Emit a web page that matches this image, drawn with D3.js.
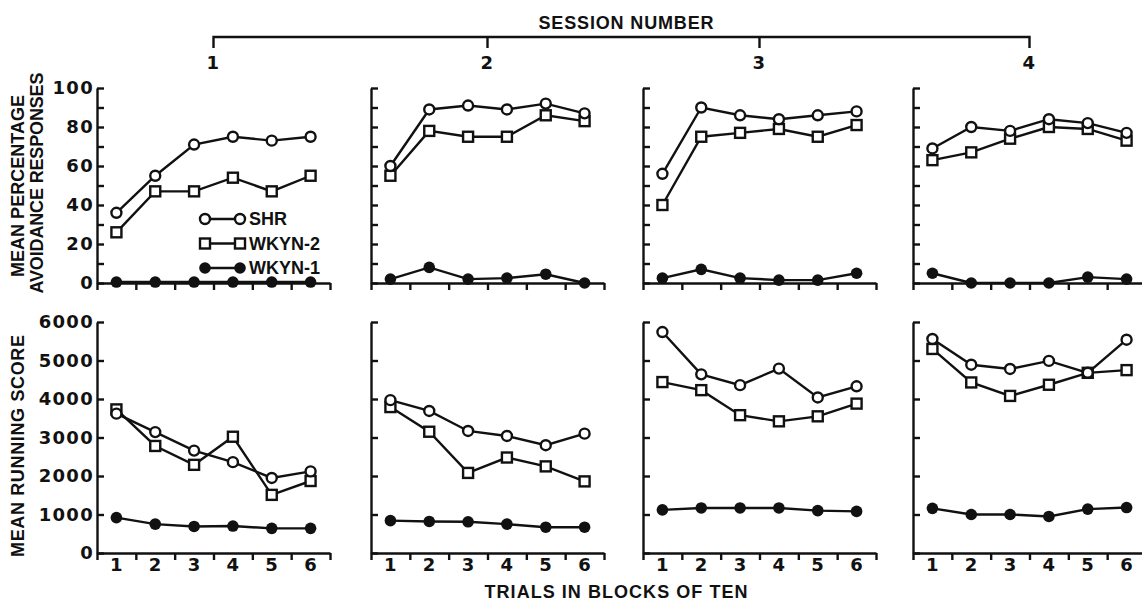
<!DOCTYPE html>
<html>
<head>
<meta charset="utf-8">
<script src="https://cdn.jsdelivr.net/npm/d3@7"></script>
<style>
  body { margin: 0; background: #fff; }
  svg text { font-family: "Liberation Sans", Arial, sans-serif; font-weight: bold; fill: #111; }
  svg text.num { font-family: "DejaVu Sans", sans-serif; letter-spacing: 1.3px; }
</style>
</head>
<body>
<svg id="chart" width="1142" height="601"></svg>
<script>
// blocks of ten trials and session labels
var blocks = [1, 2, 3, 4, 5, 6];
var sessions = ["1", "2", "3", "4"];
var seriesNames = ["SHR", "WKYN-2", "WKYN-1"];

// mean percentage avoidance responses, one row per session
var shrAvoid = [
  [36, 55, 71, 75, 73, 75],
  [60, 89, 91, 89, 92, 87],
  [56, 90, 86, 84, 86, 88],
  [69, 80, 78, 84, 82, 77]
];
var wk2Avoid = [
  [26, 47, 47, 54, 47, 55],
  [55, 78, 75, 75, 86, 83],
  [40, 75, 77, 79, 75, 81],
  [63, 67, 74, 80, 79, 73]
];
var wk1Avoid = [
  [0.5, 0.5, 0.5, 0.5, 0.5, 0.5],
  [2, 8, 2, 2.5, 4.5, 0],
  [2.5, 7, 2.5, 1.5, 1.5, 5],
  [5, 0, 0, 0, 3, 2]
];

// mean running score, one row per session
var shrRun = [
  [3620, 3140, 2660, 2360, 1950, 2120],
  [3970, 3690, 3170, 3040, 2800, 3100],
  [5740, 4640, 4360, 4790, 4040, 4330],
  [5560, 4890, 4780, 4990, 4680, 5540]
];
var wk2Run = [
  [3730, 2780, 2290, 3020, 1510, 1870],
  [3790, 3150, 2080, 2480, 2250, 1860],
  [4440, 4230, 3580, 3420, 3550, 3880],
  [5300, 4430, 4080, 4370, 4680, 4750]
];
var wk1Run = [
  [920, 750, 690, 700, 640, 640],
  [840, 820, 810, 750, 670, 670],
  [1120, 1170, 1170, 1170, 1100, 1080],
  [1160, 1000, 1000, 950, 1140, 1180]
];

var avoidTicks = d3.range(0, 101, 10);
var avoidLabels = [0, 20, 40, 60, 80, 100];
var runTicks = [0, 1000, 2000, 3000, 4000, 5000, 6000];

var svg = d3.select("#chart");
var ink = "#111";
var sw = 2.4;

var panelLeft = [97, 371, 643, 913];
var panelW = 233;
var top1 = 88, bot1 = 283;
var top2 = 322, bot2 = 553;

var yAvoid = d3.scaleLinear().domain([0, 100]).range([bot1, top1]);
var yRun = d3.scaleLinear().domain([0, 6000]).range([bot2, top2]);

var markers = {
  "SHR": "circle",
  "WKYN-2": "square",
  "WKYN-1": "dot"
};

function drawMarker(g, type, cx, cy) {
  if (type === "square") {
    g.append("rect")
      .attr("x", cx - 5).attr("y", cy - 5)
      .attr("width", 10).attr("height", 10)
      .attr("fill", "#fff").attr("stroke", ink).attr("stroke-width", sw);
  } else if (type === "circle") {
    g.append("circle")
      .attr("cx", cx).attr("cy", cy).attr("r", 5)
      .attr("fill", "#fff").attr("stroke", ink).attr("stroke-width", sw);
  } else {
    g.append("circle")
      .attr("cx", cx).attr("cy", cy).attr("r", 5.8)
      .attr("fill", ink).attr("stroke", "none");
  }
}

function styleLabels(sel) {
  sel.selectAll("text")
    .attr("class", "num")
    .attr("font-size", 18)
    .attr("fill", ink);
  sel.attr("font-family", null).attr("font-size", null);
}

function drawPanel(p, y, yTicks, series, labelTicks, showX) {
  var x = d3.scaleLinear().domain([0, 6]).range([panelLeft[p], panelLeft[p] + panelW]);
  var g = svg.append("g");

  // y axis with inward ticks
  var ya = g.append("g")
    .attr("transform", "translate(" + panelLeft[p] + ",0)")
    .call(d3.axisRight(y).tickValues(yTicks).tickSize(7).tickSizeOuter(0).tickFormat(""));
  ya.selectAll("path, line").attr("stroke", ink).attr("stroke-width", sw);

  if (labelTicks) {
    var yl = g.append("g")
      .attr("transform", "translate(" + panelLeft[p] + ",0)")
      .call(d3.axisLeft(y).tickValues(labelTicks).tickSize(0).tickPadding(3).tickFormat(d3.format("d")));
    yl.select(".domain").remove();
    styleLabels(yl);
  }

  // x axis, ticks on block boundaries
  var xa = g.append("g")
    .attr("transform", "translate(0," + y.range()[0] + ")")
    .call(d3.axisBottom(x).tickValues(d3.range(0, 7)).tickSize(7).tickSizeOuter(0).tickFormat(""));
  xa.selectAll("path, line").attr("stroke", ink).attr("stroke-width", sw);

  if (showX) {
    var xl = g.append("g")
      .attr("transform", "translate(0," + y.range()[0] + ")")
      .call(d3.axisBottom(x).tickValues(blocks.map(function (b) { return b - 0.5; }))
        .tickSize(0).tickPadding(5).tickFormat(function (d) { return d + 0.5; }));
    xl.select(".domain").remove();
    styleLabels(xl);
  }

  var line = d3.line()
    .x(function (d, i) { return x(i + 0.5); })
    .y(function (d) { return y(d); });

  series.forEach(function (s) {
    g.append("path").datum(s.values)
      .attr("d", line).attr("fill", "none")
      .attr("stroke", ink).attr("stroke-width", sw);
  });
  series.forEach(function (s) {
    s.values.forEach(function (v, i) {
      drawMarker(g, markers[s.name], x(i + 0.5), y(v));
    });
  });
}

sessions.forEach(function (s, p) {
  drawPanel(p, yAvoid, avoidTicks, [
    { name: "WKYN-1", values: wk1Avoid[p] },
    { name: "WKYN-2", values: wk2Avoid[p] },
    { name: "SHR", values: shrAvoid[p] }
  ], p === 0 ? avoidLabels : null, false);
  drawPanel(p, yRun, runTicks, [
    { name: "WKYN-1", values: wk1Run[p] },
    { name: "WKYN-2", values: wk2Run[p] },
    { name: "SHR", values: shrRun[p] }
  ], p === 0 ? runTicks : null, true);
});

// session bracket on top
var centers = panelLeft.map(function (l) { return l + panelW / 2; });
var bracket = svg.append("g");
bracket.append("path")
  .attr("d", "M" + centers[0] + ",48 V37 H" + centers[3] + " V48")
  .attr("fill", "none").attr("stroke", ink).attr("stroke-width", sw);
bracket.selectAll("line.mid").data([centers[1], centers[2]]).enter()
  .append("line").attr("class", "mid")
  .attr("x1", function (d) { return d; }).attr("x2", function (d) { return d; })
  .attr("y1", 37).attr("y2", 48)
  .attr("stroke", ink).attr("stroke-width", sw);
bracket.selectAll("text.num").data(sessions).enter()
  .append("text").attr("class", "num")
  .attr("x", function (d, i) { return centers[i]; })
  .attr("y", 69).attr("text-anchor", "middle").attr("font-size", 18)
  .text(function (d) { return d; });

svg.append("text").attr("x", 626).attr("y", 29).attr("text-anchor", "middle")
  .attr("font-size", 18).attr("textLength", 175).text("SESSION NUMBER");

// axis titles
function vtitle(txt, x, y, len) {
  svg.append("text")
    .attr("transform", "translate(" + x + "," + y + ") rotate(-90)")
    .attr("text-anchor", "middle").attr("dy", "0.36em")
    .attr("font-size", 18).attr("textLength", len).text(txt);
}
vtitle("MEAN PERCENTAGE", 18, 186, 182);
vtitle("AVOIDANCE RESPONSES", 37, 183, 221);
vtitle("MEAN RUNNING SCORE", 18, 446, 222);

svg.append("text").attr("x", 616).attr("y", 598).attr("text-anchor", "middle")
  .attr("font-size", 18).attr("textLength", 263).text("TRIALS IN BLOCKS OF TEN");

// legend inside first top panel
var legend = svg.append("g");
seriesNames.forEach(function (n, i) {
  var ly = 219 + i * 24.5;
  legend.append("line").attr("x1", 205).attr("x2", 240).attr("y1", ly).attr("y2", ly)
    .attr("stroke", ink).attr("stroke-width", sw);
  drawMarker(legend, markers[n], 205, ly);
  drawMarker(legend, markers[n], 240, ly);
  legend.append("text").attr("x", 249).attr("y", ly).attr("dy", "0.36em")
    .attr("font-size", 18).text(n);
});
</script>
</body>
</html>
